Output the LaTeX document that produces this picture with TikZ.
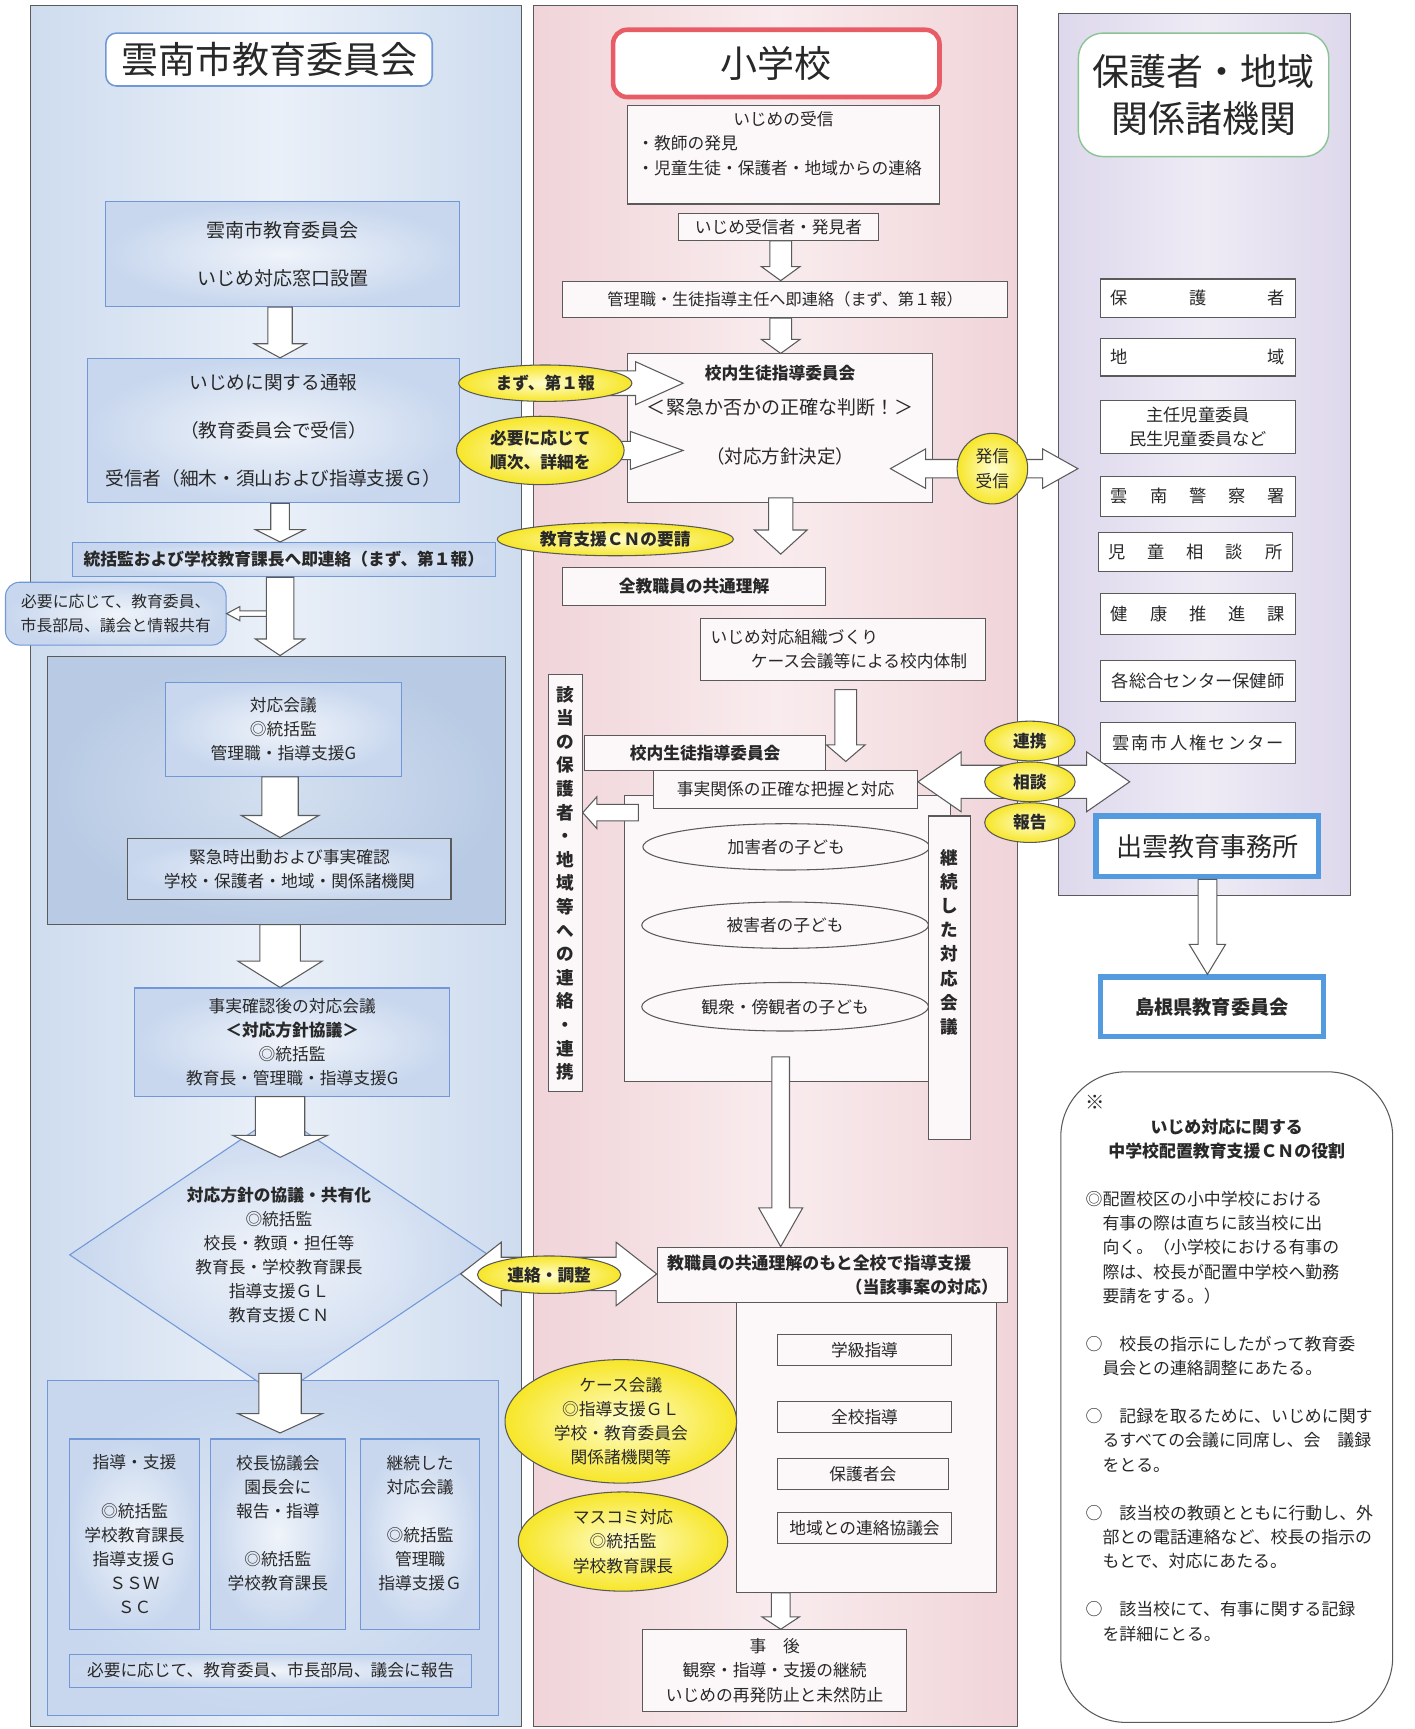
\documentclass[tikz,border=0pt]{standalone}
\usepackage{fontspec}
\setmainfont{Noto Sans CJK JP}
\usetikzlibrary{calc, shapes.geometric}

\definecolor{ink}{RGB}{40,40,40}
\definecolor{edgegray}{RGB}{90,90,90}
\definecolor{lpanA}{RGB}{206,220,239}
\definecolor{lpanB}{RGB}{234,240,248}
\definecolor{mpanA}{RGB}{240,212,217}
\definecolor{mpanB}{RGB}{249,236,238}
\definecolor{rpanA}{RGB}{222,216,236}
\definecolor{rpanB}{RGB}{238,235,245}
\definecolor{lline}{RGB}{112,152,214}
\definecolor{linner}{RGB}{240,244,250}
\definecolor{louter}{RGB}{200,215,238}
\definecolor{grpinner}{RGB}{212,224,240}
\definecolor{grpouter}{RGB}{184,202,228}
\definecolor{grptwoin}{RGB}{222,232,245}
\definecolor{mfill}{RGB}{252,248,249}
\definecolor{yelin}{RGB}{255,253,205}
\definecolor{yelout}{RGB}{247,230,40}
\definecolor{titlered}{RGB}{232,92,102}
\definecolor{titlegreen}{RGB}{138,196,148}
\definecolor{officeblue}{RGB}{84,154,222}

\newlength\ux
\setlength\ux{0.22mm}
\newcommand\fsw{6.5pt}
\newcommand\fhw{15pt}
\newcommand\fhl{11pt}
\newcommand\fz[2]{\fontsize{#1}{#2}\selectfont}

\begin{document}
\begin{tikzpicture}[
		x=0.22mm, y=-0.22mm,
		sz/.style 2 args={minimum width=#1*\ux, minimum height=#2*\ux},
		asz/.code n args={3}{\def\fsw{#1}\def\fhw{#2}\def\fhl{#3}},
		panel/.style={draw=edgegray, line width=0.6pt, inner sep=0pt},
		lbox/.style={draw=lline, line width=0.6pt, inner color=linner, outer color=louter,
			text=ink, align=center, inner sep=1pt, font=\fz{9.5}{13.7pt}},
		lgrp/.style={draw=edgegray, line width=0.6pt, inner color=grpinner, outer color=grpouter, inner sep=0pt},
		mbox/.style={draw=edgegray, line width=0.6pt, fill=mfill, text=ink, align=center,
			inner sep=1pt, font=\fz{9.5}{13.7pt}},
		rbox/.style={mbox, fill=white, font=\fz{9.8}{13.7pt}},
		oval/.style={mbox, ellipse, inner sep=0pt},
		yel/.style={ellipse, draw=black!65, line width=0.6pt, inner color=yelin, outer color=yelout,
			text=ink, align=center, inner sep=0pt, font=\fz{9.5}{13.7pt}\bfseries},
		ttl/.style={align=center, text=ink, font=\fz{21}{27pt}, inner sep=0pt},
		office/.style={draw=officeblue, line width=3pt, fill=white, text=ink, inner sep=0pt},
		arrowlook/.style={draw=edgegray, line width=0.6pt, fill=white, line join=miter},
		fat/.style={arrowlook,
			to path={let \p1=(\tikztostart), \p2=(\tikztotarget),
				\n1={atan2(\y2-\y1,\x2-\x1)}, \n2={veclen(\x2-\x1,\y2-\y1)-\fhl} in
				($(\p1)+(\n1+90:\fsw)$) -- ++(\n1:\n2) -- ++(\n1+90:\fhw-\fsw) -- (\p2)
				-- ($(\p1)+(\n1:\n2)+(\n1-90:\fhw)$) -- ++(\n1+90:\fhw-\fsw)
				-- ($(\p1)+(\n1-90:\fsw)$) -- cycle}},
		fatboth/.style={arrowlook,
			to path={let \p1=(\tikztostart), \p2=(\tikztotarget),
				\n1={atan2(\y2-\y1,\x2-\x1)}, \n2={veclen(\x2-\x1,\y2-\y1)-\fhl} in
				(\p1) -- ($(\p1)+(\n1:\fhl)+(\n1+90:\fhw)$) -- ++(\n1-90:\fhw-\fsw)
				-- ($(\p1)+(\n1:\n2)+(\n1+90:\fsw)$) -- ++(\n1+90:\fhw-\fsw) -- (\p2)
				-- ($(\p1)+(\n1:\n2)+(\n1-90:\fhw)$) -- ++(\n1+90:\fhw-\fsw)
				-- ($(\p1)+(\n1:\fhl)+(\n1-90:\fsw)$) -- ++(\n1-90:\fhw-\fsw) -- cycle}}
	]
	\path[fill=white, use as bounding box] (0,0) rectangle (1283,1568);

	% three columns
	\node[panel, left color=lpanA, right color=lpanA, middle color=lpanB, sz={445}{1561}] (lpanel) at (250.5,785.5) {};
	\node[panel, left color=mpanA, right color=mpanA, middle color=mpanB, sz={439}{1561}] (mpanel) at (703.5,785.5) {};
	\node[panel, left color=rpanA, right color=rpanA, middle color=rpanB, sz={265}{800}] (rpanel) at (1092.5,412) {};

	% board of education
	\node[ttl, draw=lline, line width=0.9pt, fill=white, rounded corners=6pt, sz={296}{48}] (lttl) at (244,54) {雲南市教育委員会};
	\node[lbox, sz={321}{95}, font=\fz{10.8}{13.7pt}] (lwin) at (256.5,230.5) {雲南市教育委員会\\[13.7pt]いじめ対応窓口設置};
	\node[lbox, sz={338}{131}, font=\fz{10.6}{13.7pt}] (ltsuho) at (248,390.5) {いじめに関する通報\\[13.7pt]（教育委員会で受信）\\[13.7pt]受信者（細木・須山および指導支援Ｇ）};
	\node[lbox, sz={383}{31}, font=\fz{9.5}{13.7pt}\bfseries] (lrenraku) at (257.5,507.5) {統括監および学校教育課長へ即連絡（まず、第１報）};
	\node[lbox, rounded corners=8pt, sz={200}{57}, font=\fz{9}{13.7pt}] (lshare) at (105,556.5) {必要に応じて、教育委員、\\市長部局、議会と情報共有};
	\node[lgrp, sz={415}{243}] (lgrp1) at (250.5,716.5) {};
	\node[lbox, sz={214}{85}] (lkaigi) at (257,661.5) {対応会議\\◎統括監\\管理職・指導支援G};
	\node[lbox, draw=edgegray, sz={293}{56}] (lkinkyu) at (262.5,788) {緊急時出動および事実確認\\学校・保護者・地域・関係諸機関};
	\node[lbox, sz={286}{98}] (lkakunin) at (265,945) {事実確認後の対応会議\\{\bfseries ＜対応方針協議＞}\\◎統括監\\教育長・管理職・指導支援G};
	\node[lgrp, draw=lline, inner color=grptwoin, outer color=louter, sz={409}{304}] (lgrp2) at (247.5,1404) {};
	\node[lbox, diamond, aspect=1.48, inner sep=0pt, sz={380}{256}] (ldia) at (253,1138) {{\bfseries 対応方針の協議・共有化}\\◎統括監\\校長・教頭・担任等\\教育長・学校教育課長\\指導支援ＧＬ\\教育支援ＣＮ};
	\node[lbox, sz={118}{173}] (lshien) at (122,1391.5) {指導・支援\\~\\◎統括監\\学校教育課長\\指導支援Ｇ\\ＳＳＷ\\ＳＣ};
	\node[lbox, sz={122}{173}] (lkocho) at (252,1391.5) {校長協議会\\園長会に\\報告・指導\\~\\◎統括監\\学校教育課長\\~};
	\node[lbox, sz={108}{173}] (lkeizoku) at (381,1391.5) {継続した\\対応会議\\~\\◎統括監\\管理職\\指導支援Ｇ\\~};
	\node[lbox, sz={365}{30}] (lhoukoku) at (245.5,1515) {必要に応じて、教育委員、市長部局、議会に報告};

	\coordinate (lax) at (254,0);
	\draw[fat, asz={1.6pt}{4pt}{7.5pt}] (lax |- lshare.east) to (lshare.east);
	\draw[fat, asz={6.9pt}{14.7pt}{8pt}] (lax |- lwin.south) to (lax |- ltsuho.north);
	\draw[fat, asz={5.3pt}{14pt}{7pt}] (lax |- ltsuho.south) to (lax |- lrenraku.north);
	\draw[fat, asz={7.8pt}{14pt}{9.4pt}] (lax |- lrenraku.south) to (lax |- lgrp1.north);
	\draw[fat, asz={10.3pt}{22pt}{12.5pt}] (lax |- lkaigi.south) to (lax |- lkinkyu.north);
	\draw[fat, asz={11.5pt}{24pt}{15pt}] (lax |- lgrp1.south) to (lax |- lkakunin.north);
	\draw[fat, asz={14pt}{27pt}{12.5pt}] (lax |- lkakunin.south) to ($(lax |- ldia.north)+(0,40)$);
	\draw[fat, asz={12pt}{24pt}{11pt}] ($(lax |- ldia.south)+(0,-21)$) to ($(lax |- lgrp2.north)+(0,48)$);

	% elementary school
	\node[ttl, draw=titlered, line width=2.6pt, fill=white, rounded corners=8pt, sz={296}{61}] (mttl) at (704,57.5) {小学校};
	\node[mbox, sz={283}{89}, text width=265*\ux, align=left] (muke) at (710.5,140.5) {\makebox[\hsize]{いじめの受信}\\・教師の発見\\・児童生徒・保護者・地域からの連絡\\~};
	\node[mbox, sz={182}{24}] (mfinder) at (706,206) {いじめ受信者・発見者};
	\node[mbox, sz={404}{33}, font=\fz{9.2}{13.7pt}] (mkanri) at (712,271.5) {管理職・生徒指導主任へ即連絡（まず、第１報）};
	\node[mbox, sz={277}{135}] (miinkai) at (707.5,388.5) {{\bfseries 校内生徒指導委員会}\\[6pt]{\fz{10.8}{13.7pt}＜緊急か否かの正確な判断！＞}\\[14pt]{\fz{10.5}{13.7pt}（対応方針決定）}\\[2pt]\mbox{}};
	\node[mbox, sz={239}{34}, font=\fz{9.5}{13.7pt}\bfseries] (mzenkyo) at (629.5,532) {全教職員の共通理解};
	\node[mbox, sz={259}{56}, text width=240*\ux, align=left] (msoshiki) at (764.5,589) {いじめ対応組織づくり\\\hspace*{2.4em}ケース会議等による校内体制};
	\node[mbox, sz={31}{378}, font=\fz{10}{13.4pt}\bfseries] (mgaitou) at (512.5,801) {該\\当\\の\\保\\護\\者\\・\\地\\域\\等\\へ\\の\\連\\絡\\・\\連\\携};
	\node[mbox, sz={219}{32}, font=\fz{9.5}{13.7pt}\bfseries] (mkounai) at (639.5,683) {校内生徒指導委員会};
	\node[mbox, sz={296}{260}] (mcont) at (714,851) {};
	\node[mbox, sz={239}{34}] (mjijitsu) at (712.5,716) {事実関係の正確な把握と対応};
	\node[oval, sz={260}{42}] (ekagai) at (713,768) {加害者の子ども};
	\node[oval, sz={260}{42}] (ehigai) at (712,839) {被害者の子ども};
	\node[oval, sz={260}{44}] (ekanshu) at (712,913) {観衆・傍観者の子ども};
	\node[mbox, sz={38}{293}, font=\fz{10}{13.7pt}\bfseries] (mkeizoku) at (861,886.5) {継\\続\\し\\た\\対\\応\\会\\議\\~\\~\\~};
	\node[mbox, sz={236}{263}] (mlist) at (786,1312.5) {};
	\node[mbox, sz={318}{50}, text width=300*\ux, align=left, font=\fz{9.6}{13.7pt}\bfseries] (mkyo) at (755,1156) {教職員の共通理解のもと全校で指導支援\\\makebox[\hsize][r]{（当該事案の対応）}};
	\node[mbox, sz={158}{28}] (mgakkyu) at (784,1224) {学級指導};
	\node[mbox, sz={158}{28}] (mzenko) at (784,1285) {全校指導};
	\node[mbox, sz={155}{28}] (mhogosha) at (782.5,1337) {保護者会};
	\node[mbox, sz={158}{28}] (mchiiki) at (784,1386) {地域との連絡協議会};
	\node[mbox, sz={239}{74}] (mjigo) at (702.5,1515) {事　後\\観察・指導・支援の継続\\いじめの再発防止と未然防止};

	\coordinate (midax) at (708,0);
	\coordinate (bax) at (767,0);
	\coordinate (kside) at (579,737);
	\draw[fat, asz={6.2pt}{11pt}{8pt}] (midax |- mfinder.south) to (midax |- mkanri.north);
	\draw[fat, asz={6.2pt}{11pt}{8pt}] (midax |- mkanri.south) to (midax |- miinkai.north);
	\draw[fat, asz={6.9pt}{15pt}{13.7pt}] ($(midax |- miinkai.south)+(0,-5)$) to ($(midax |- mzenkyo.north)+(0,-12)$);
	\draw[fat, asz={6.2pt}{11pt}{9.4pt}] ($(bax |- msoshiki.south)+(0,8)$) to ($(bax |- mjijitsu.north)+(0,-8)$);
	\draw[fat, asz={4.7pt}{9pt}{8pt}] (kside) to (kside -| mgaitou.east);
	\draw[fat, asz={5pt}{12.5pt}{22pt}] ($(midax |- mcont.south)+(0,-23)$) to (midax |- mkyo.north);
	\draw[fat, asz={5.3pt}{10.6pt}{7pt}] (midax |- mlist.south) to (midax |- mjigo.north);

	% guardians, community, agencies
	\node[ttl, draw=titlegreen, line width=0.8pt, fill=white, rounded corners=14pt, sz={227}{112}] (rttl) at (1091.5,86) {保護者・地域\\関係諸機関};
	\node[rbox, sz={177}{35}] (rhogo) at (1086.5,270.5) {\makebox[158\ux]{保\hfill 護\hfill 者}};
	\node[rbox, sz={177}{34}] (rchiiki) at (1086.5,324) {\makebox[158\ux]{地\hfill 域}};
	\node[rbox, sz={177}{48}] (rjido) at (1086.5,387) {主任児童委員\\民生児童委員など};
	\node[rbox, sz={177}{36}] (rkeisatsu) at (1086.5,450) {\makebox[158\ux]{雲\hfill 南\hfill 警\hfill 察\hfill 署}};
	\node[rbox, sz={176}{35}] (rsoudan) at (1084,500.5) {\makebox[158\ux]{児\hfill 童\hfill 相\hfill 談\hfill 所}};
	\node[rbox, sz={177}{37}] (rkenkou) at (1086.5,556.5) {\makebox[158\ux]{健\hfill 康\hfill 推\hfill 進\hfill 課}};
	\node[rbox, sz={177}{37}] (rhoken) at (1086.5,617.5) {各総合センター保健師};
	\node[rbox, sz={177}{37}] (rjinken) at (1086.5,673.5) {\makebox[156\ux]{雲\hfill 南\hfill 市\hfill 人\hfill 権\hfill セ\hfill ン\hfill タ\hfill ー}};
	\node[office, sz={202}{55}, font=\fz{14.8}{18pt}] (rizumo) at (1095,767.5) {出雲教育事務所};
	\node[office, sz={202}{54}, font=\fz{10.9}{14pt}\bfseries] (rshimane) at (1099,913) {島根県教育委員会};
	\draw[fat, asz={5.3pt}{10.3pt}{17pt}] (rizumo.south) to (rizumo.south |- rshimane.north);

	\node[draw=edgegray, line width=0.6pt, fill=white, rounded corners=37pt, sz={301}{590},
		text=ink, text width=256*\ux, align=left, font=\fz{9.6}{13.7pt}] (rnote) at (1112.5,1267) {%
		{\fz{11}{13.7pt}※}\\
		\makebox[\hsize]{\bfseries いじめ対応に関する}\\
		\makebox[\hsize]{\bfseries 中学校配置教育支援ＣＮの役割}\\
		~\\
		◎配置校区の小中学校における\\
		　有事の際は直ちに該当校に出\\
		　向く。（小学校における有事の\\
		　際は、校長が配置中学校へ勤務\\
		　要請をする。）\\
		~\\
		○　校長の指示にしたがって教育委\\
		　員会との連絡調整にあたる。\\
		~\\
		○　記録を取るために、いじめに関す\\
		　るすべての会議に同席し、会　議録\\
		　をとる。\\
		~\\
		○　該当校の教頭とともに行動し、外\\
		　部との電話連絡など、校長の指示の\\
		　もとで、対応にあたる。\\
		~\\
		○　該当校にて、有事に関する記録\\
		　を詳細にとる。\\[20pt]\mbox{}};

	% links between the columns
	\coordinate (cmazu) at (494.5,347.5);
	\coordinate (chitsuyo) at (490,408.5);
	\coordinate (chasshin) at (900,425);
	\draw[fat, asz={7pt}{12.2pt}{27pt}] (cmazu) to ($(cmazu -| miinkai.west)+(51,0)$);
	\draw[fat, asz={5.2pt}{10.8pt}{30pt}] (chitsuyo) to ($(chitsuyo -| miinkai.west)+(51,0)$);
	\node[yel, sz={157}{33}] (ymazu) at (cmazu) {まず、第１報};
	\node[yel, sz={152}{62}] (yhitsuyo) at (chitsuyo) {必要に応じて\\順次、詳細を};
	\node[yel, sz={214}{30}] (ycn) at (558,489) {教育支援ＣＮの要請};

	\draw[fatboth, asz={5.2pt}{11.2pt}{20pt}] ($(miinkai.east |- chasshin)+(-39,0)$) to ($(rpanel.west |- chasshin)+(18,0)$);
	\node[yel, sz={64}{64}, font=\fz{9.5}{13.7pt}] (yhasshin) at (chasshin) {発信\\受信};

	\draw[fatboth, asz={9.4pt}{17pt}{24.5pt}] ($(mjijitsu.east)+(0,-7)$) to ($(rpanel.west |- mjijitsu.east)+(65,-7)$);
	\node[yel, sz={82}{36}] (yrenkei) at (934,672) {連携};
	\node[yel, sz={82}{36}] (ysoudan) at (934,709) {相談};
	\node[yel, sz={82}{36}] (yhoukoku) at (934,746) {報告};

	\draw[fatboth, asz={9.5pt}{18pt}{23pt}] (ldia.354) to (ldia.354 -| mkyo.west);
	\node[yel, sz={130}{34}] (yrenraku) at (498,1156) {連絡・調整};

	\node[yel, sz={210}{112}, inner sep=-4pt, font=\fz{9.5}{13.7pt}] (ycase) at (563,1289) {ケース会議\\◎指導支援ＧＬ\\学校・教育委員会\\関係諸機関等};
	\node[yel, sz={190}{90}, font=\fz{9.5}{13.7pt}] (ymasu) at (565,1398) {マスコミ対応\\◎統括監\\学校教育課長};
\end{tikzpicture}
\end{document}
